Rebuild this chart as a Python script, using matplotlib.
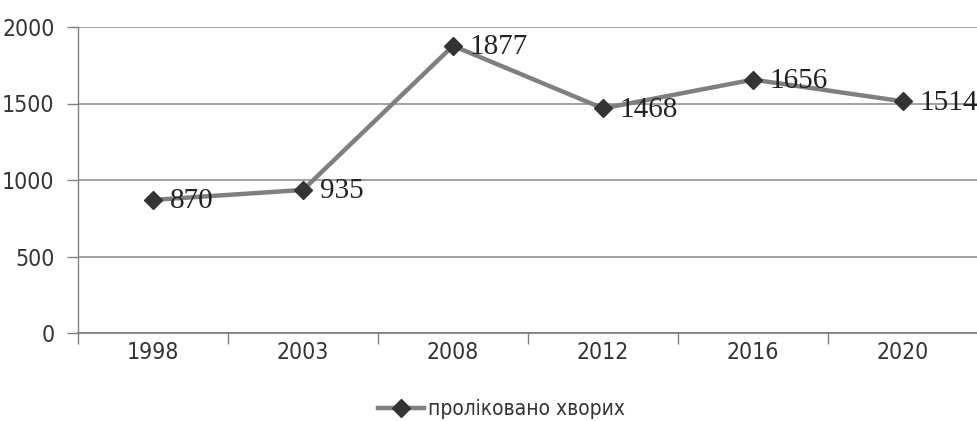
import matplotlib
matplotlib.use("Agg")
import matplotlib.pyplot as plt
from matplotlib import font_manager as fm

# дані
years = ["1998", "2003", "2008", "2012", "2016", "2020"]
treated = [870, 935, 1877, 1468, 1656, 1514]
series_name = "проліковано хворих"

# вузький шрифт, якщо є
fonts = fm.fontManager.ttflist
if any(f.name == "Liberation Sans Narrow" for f in fonts):
    narrow = {"family": "Liberation Sans Narrow"}
elif any(f.name == "DejaVu Sans" and f.stretch == "condensed" for f in fonts):
    narrow = {"family": "DejaVu Sans", "stretch": "condensed"}
else:
    narrow = {"family": "DejaVu Sans"}
serif = "Liberation Serif" if any(f.name == "Liberation Serif" for f in fonts) else "DejaVu Serif"

fig = plt.figure(figsize=(9.78, 4.21), dpi=100)
ax = fig.add_axes([78/978, 1 - 333/421, 1 - 78/978, (333 - 27)/421])

x = list(range(len(years)))
line, = ax.plot(x, treated, color="#7f7f7f", lw=3.2, marker="D", ms=9,
                mfc="#333333", mec="#333333", zorder=3, label=series_name)

for xi, v in zip(x, treated):
    ax.annotate(str(v), (xi, v), xytext=(12, -1), textcoords="offset points",
                ha="left", va="center", fontsize=21, family=serif, color="#222222")

ax.set_xlim(-0.5, len(years) - 0.5)
ax.set_ylim(0, 2000)
ax.set_yticks([0, 500, 1000, 1500, 2000])
ax.set_xticks(x)
ax.set_xticklabels(years)
ax.set_xticks([i + 0.5 for i in range(-1, len(years))], minor=True)
ax.tick_params(axis="x", which="major", length=0, pad=6)
ax.tick_params(axis="x", which="minor", length=8, color="#808080", width=1)
ax.tick_params(axis="y", length=8, color="#808080", width=1, pad=9)
for lab in ax.get_xticklabels() + ax.get_yticklabels():
    lab.set_family(narrow["family"])
    if "stretch" in narrow:
        lab.set_stretch(narrow["stretch"])
    lab.set_fontsize(16.5)
    lab.set_color("#333333")

ax.grid(axis="y", color="#9a9a9a", lw=1.3)
ax.set_axisbelow(True)
for s in ["top", "right"]:
    ax.spines[s].set_visible(False)
ax.spines["left"].set_color("#808080")
ax.spines["bottom"].set_color("#808080")
ax.spines["left"].set_linewidth(1)
ax.spines["bottom"].set_linewidth(1.3)

prop = dict(narrow)
prop["size"] = 15
leg = fig.legend(handles=[line], loc="center", bbox_to_anchor=(502/978, 1 - 409/421),
                 frameon=False, prop=prop,
                 handlelength=2.2, handletextpad=0.2, borderpad=0)
for t in leg.get_texts():
    t.set_color("#333333")

fig.savefig("out.png", dpi=100)
